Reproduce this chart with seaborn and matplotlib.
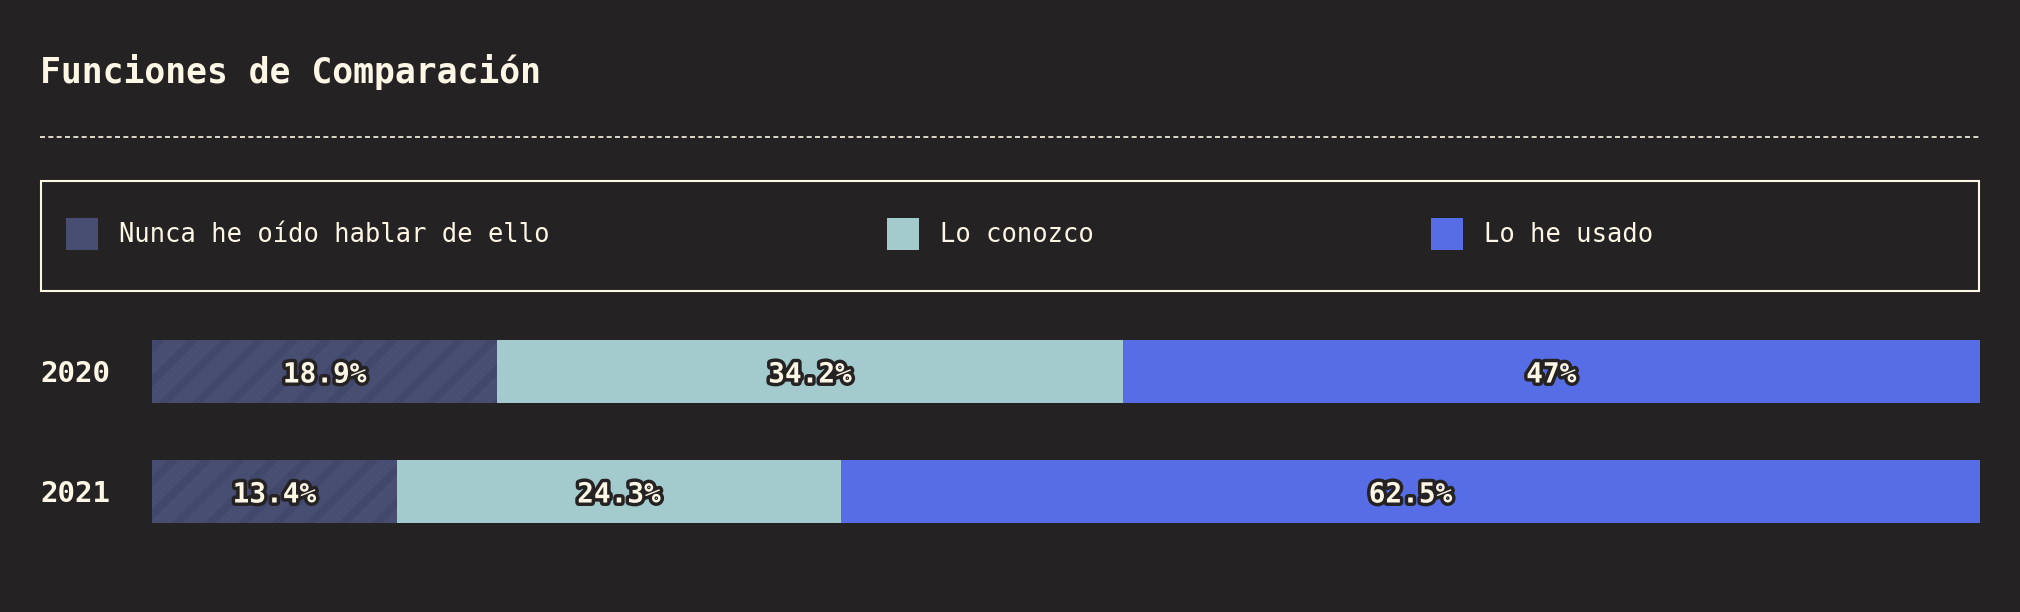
import pandas as pd
import matplotlib.pyplot as plt
import matplotlib.patheffects as pe
from matplotlib.patches import Rectangle, Patch
from matplotlib.lines import Line2D
import seaborn as sns

# --- data ---
years = ["2020", "2021"]
never_heard = [18.9, 13.4]
know_it = [34.2, 24.3]
used_it = [47.0, 62.5]
series_labels = ["Nunca he oído hablar de ello", "Lo conozco", "Lo he usado"]
title = "Funciones de Comparación"

BG = "#252223"
CREAM = "#FFF7E6"
NAVY = "#474E72"
NAVY_STRIPE = "#42486B"
TEAL = "#A3CBCE"
BLUE = "#566DE5"
FONT = "DejaVu Sans Mono"

W, H = 2020, 612

sns.set_theme(style="white")
plt.rcParams["font.family"] = [FONT, "DejaVu Sans"]
plt.rcParams["hatch.linewidth"] = 5.5

df = pd.DataFrame({"year": years, "never": never_heard, "know": know_it, "used": used_it})
df["cum1"] = df["never"]
df["cum2"] = df["never"] + df["know"]
df["cum3"] = df["cum2"] + df["used"]

fig = plt.figure(figsize=(W / 100, H / 100), dpi=100, facecolor=BG)

# bar area: x 152..1980, two rows of 120px centred at 371.5 and 491.5
ax = fig.add_axes([152 / W, 1 - 551.5 / H, 1828 / W, 240 / H])
ax.set_facecolor(BG)

# stacked by overdrawing cumulative totals, widest first
sns.barplot(data=df, x="cum3", y="year", orient="h", color=BLUE, width=0.525,
            saturation=1, linewidth=0, ax=ax)
sns.barplot(data=df, x="cum2", y="year", orient="h", color=TEAL, width=0.525,
            saturation=1, linewidth=0, ax=ax)
sns.barplot(data=df, x="cum1", y="year", orient="h", color=NAVY, width=0.525,
            saturation=1, linewidth=0, ax=ax)
for bar in ax.containers[-1]:
    bar.set_hatch("/")
    bar.set_edgecolor(NAVY_STRIPE)
    bar.set_linewidth(0)

ax.set_xlim(0, 100)
ax.set_ylim(1.5, -0.5)
ax.set_xlabel("")
ax.set_ylabel("")
ax.set_xticks([])
for s in ax.spines.values():
    s.set_visible(False)

ax.tick_params(axis="y", length=0, pad=112 * 0.72)
for lab in ax.get_yticklabels():
    lab.set_horizontalalignment("left")
    lab.set_verticalalignment("center_baseline")
    lab.set_fontsize(21)
    lab.set_fontweight("bold")
    lab.set_color(CREAM)

# segment labels
stroke = [pe.withStroke(linewidth=5, foreground=BG)]
for i, row in df.iterrows():
    starts = [0, row["cum1"], row["cum2"]]
    vals = [row["never"], row["know"], row["used"]]
    for s0, v in zip(starts, vals):
        txt = f"{v:g}%"
        ax.text(min(s0 + v / 2, (s0 + 100) / 2), i, txt, ha="center",
                va="center_baseline", fontsize=20, fontweight="bold",
                color=CREAM, path_effects=stroke)

# title
fig.text(40 / W, 1 - 83 / H, title, fontsize=25, fontweight="bold", color=CREAM,
         ha="left", va="baseline")

# dashed separator
fig.add_artist(Line2D([40 / W, 1980 / W], [1 - 137 / H, 1 - 137 / H],
                      transform=fig.transFigure, color=CREAM, lw=1.2,
                      linestyle=(0, (3, 2))))

# legend frame
fig.add_artist(Rectangle((41 / W, 1 - 291 / H), 1938 / W, 110 / H,
                         transform=fig.transFigure, fill=False, ec=CREAM, lw=1.5))

handles = [Patch(facecolor=c, edgecolor="none") for c in [NAVY, TEAL, BLUE]]
leg = fig.legend(handles, series_labels, loc="center left",
                 bbox_to_anchor=(66 / W, 1 - 234 / H), ncol=3, frameon=False,
                 fontsize=18.4, handlelength=1.25, handleheight=1.6,
                 handletextpad=0.82, columnspacing=13.2, borderpad=0,
                 borderaxespad=0)
for t in leg.get_texts():
    t.set_color(CREAM)

fig.savefig("out.png", dpi=100, facecolor=BG)
